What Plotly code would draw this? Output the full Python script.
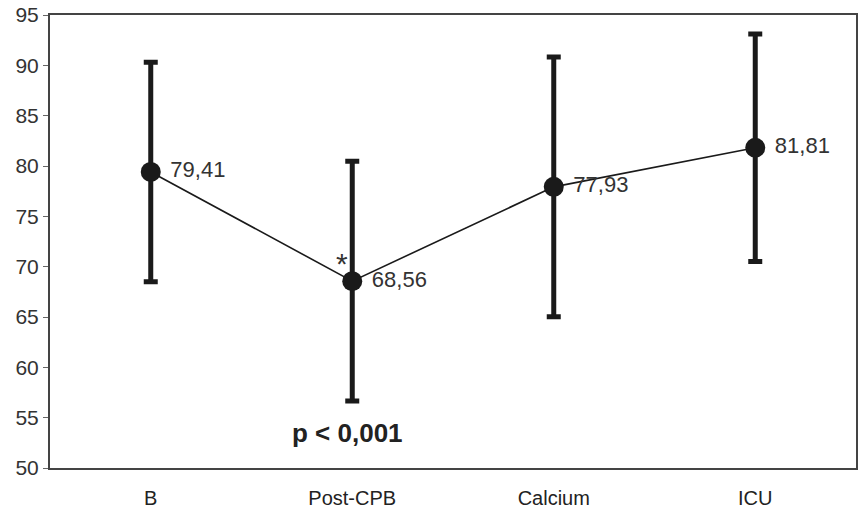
import plotly.graph_objects as go

categories = ["B", "Post-CPB", "Calcium", "ICU"]
means = [79.41, 68.56, 77.93, 81.81]
sd = [10.9, 11.9, 12.9, 11.3]
mean_labels = ["79,41", "68,56", "77,93", "81,81"]
y_ticks = [50, 55, 60, 65, 70, 75, 80, 85, 90, 95]

FONT = "Liberation Sans, Arial, sans-serif"

fig = go.Figure()
fig.add_trace(go.Scatter(
    x=categories, y=means,
    mode="lines+markers+text",
    line=dict(color="#1a1a1a", width=1.6),
    marker=dict(color="#1a1a1a", size=20, symbol="circle"),
    error_y=dict(type="data", array=sd, visible=True, color="#1a1a1a", thickness=5, width=7),
    text=[" " + t for t in mean_labels],
    textposition="middle right",
    textfont=dict(family=FONT, size=22, color="#333333"),
    hoverinfo="skip",
    showlegend=False,
))

fig.add_annotation(x="Post-CPB", y=means[1], text="*", showarrow=False,
                   xshift=-10, yshift=18,
                   font=dict(family=FONT, size=30, color="#333333"))
fig.add_annotation(x="Post-CPB", y=53.5, text="<b>p < 0,001</b>", showarrow=False,
                   xshift=-5,
                   font=dict(family=FONT, size=26, color="#222222"))

fig.update_layout(
    width=858, height=512,
    margin=dict(l=50, r=2, t=15, b=44),
    paper_bgcolor="white", plot_bgcolor="white",
    font=dict(family=FONT, color="#333333"),
    xaxis=dict(
        type="category", range=[-0.5, 3.5], automargin=False,
        showline=True, linecolor="#444444", linewidth=2, mirror=True,
        showgrid=False, ticks="", tickfont=dict(size=20, color="#222222"),
        ticklabelstandoff=11,
    ),
    yaxis=dict(
        range=[50, 95], tickvals=y_ticks, automargin=False,
        showline=True, linecolor="#444444", linewidth=2, mirror=True,
        showgrid=False, zeroline=False, ticks="outside", ticklen=5, tickcolor="#666666",
        tickfont=dict(size=21, color="#333333"),
    ),
)

fig.write_html(
    "out.html",
    config={"displayModeBar": False},
    post_script="document.body.style.margin='0';document.body.style.padding='0';document.body.style.overflow='hidden';",
)
